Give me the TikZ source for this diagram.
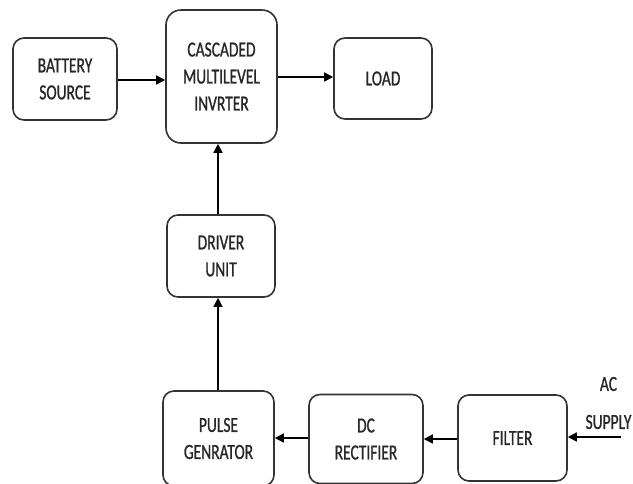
\documentclass[tikz,border=0pt]{standalone}
\usepackage{fontspec}
\setmainfont{Carlito}[FakeStretch=0.72,FakeBold=0.9]
\usetikzlibrary{arrows.meta}
\definecolor{boxline}{HTML}{333333}
\definecolor{txt}{HTML}{262626}
\tikzset{
  blockbox/.style={draw=boxline, line width=1.6pt, rounded corners=11pt, align=center,
    text=txt, font=\fontsize{21.5}{27}\selectfont, inner sep=0pt},
  conn/.style={line width=1.5pt, -{Triangle[length=9pt,width=9pt]}}
}
\begin{document}
\begin{tikzpicture}[x=1pt,y=-1pt]
\useasboundingbox (0,0) rectangle (633,483);
\node[blockbox, minimum width=104pt, minimum height=82pt] (bat) at (65,79) {BATTERY\\SOURCE};
\node[blockbox, minimum width=111pt, minimum height=133pt, rounded corners=15pt] (inv) at (221.5,76.5) {CASCADED\\MULTILEVEL\\INVRTER};
\node[blockbox, minimum width=98pt, minimum height=81pt] (load) at (383,78.5) {LOAD};
\node[blockbox, minimum width=108pt, minimum height=82pt] (drv) at (221,256) {DRIVER\\UNIT};
\node[blockbox, minimum width=111pt, minimum height=95pt] (pulse) at (218.5,438.5) {PULSE\\GENRATOR};
\node[blockbox, minimum width=114pt, minimum height=89pt] (dc) at (366,439) {DC\\RECTIFIER};
\node[blockbox, minimum width=109pt, minimum height=86pt] (filt) at (512.5,438) {FILTER};
\node[align=center, text=txt, font=\fontsize{21.5}{38}\selectfont, inner sep=0pt] (ac) at (608.5,403) {AC\\SUPPLY};
\coordinate (acin) at (621,437);
\draw[conn] (bat.east |- 0,80) -- (inv.west |- 0,80);
\draw[conn] (inv.east |- 0,77) -- (load.west |- 0,77);
\draw[conn] (drv.north -| 218,0) -- (inv.south -| 218,0);
\draw[conn, line width=1.2pt] (pulse.north -| 218,0) -- (drv.south -| 218,0);
\draw[conn] (dc.west |- 0,438) -- (pulse.east |- 0,438);
\draw[conn] (filt.west |- 0,439) -- (dc.east |- 0,439);
\draw[conn] (acin) -- (filt.east |- acin);
\end{tikzpicture}
\end{document}
